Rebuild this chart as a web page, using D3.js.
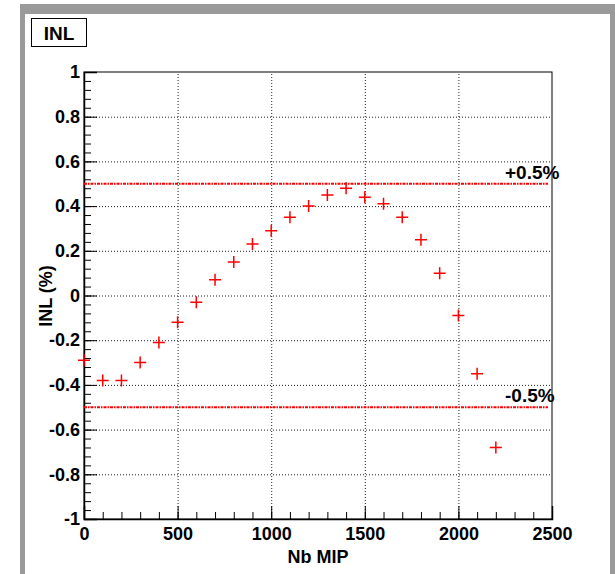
<!DOCTYPE html>
<html>
<head>
<meta charset="utf-8">
<script src="https://cdn.jsdelivr.net/npm/d3@7"></script>
<style>
    body { margin: 0; background: #fff; }
    text { font-family: "Liberation Sans", Arial, sans-serif; }
</style>
</head>
<body>
<script>
// data
const nbMip = [0, 100, 200, 300, 400, 500, 600, 700, 800, 900, 1000, 1100,
    1200, 1300, 1400, 1500, 1600, 1700, 1800, 1900, 2000, 2100, 2200]
const inl = [-0.29, -0.38, -0.38, -0.30, -0.21, -0.12, -0.03, 0.07, 0.15, 0.23, 0.29, 0.35,
    0.40, 0.45, 0.48, 0.44, 0.41, 0.35, 0.25, 0.10, -0.09, -0.35, -0.68]
const limits = [0.5, -0.5]
const limitLabels = ['+0.5%', '-0.5%']
const xTicks = [0, 500, 1000, 1500, 2000, 2500]
const yTicks = [-1, -0.8, -0.6, -0.4, -0.2, 0, 0.2, 0.4, 0.6, 0.8, 1]

const measurements = {
    width: 615,
    height: 574,
    left: 84,
    right: 552,
    top: 72,
    bottom: 519
}

const svg = d3.select('body').append('svg')
    .attr('width', measurements.width)
    .attr('height', measurements.height)

// grey ROOT canvas frame
svg.append('rect')
    .attr('x', 20).attr('y', 4)
    .attr('width', 600).attr('height', 580)
    .attr('fill', '#9a9a9a')
svg.append('rect')
    .attr('x', 25).attr('y', 14)
    .attr('width', 585).attr('height', 570)
    .attr('fill', '#fff')

// title box
svg.append('rect')
    .attr('x', 31.5).attr('y', 18.5)
    .attr('width', 55).attr('height', 28)
    .attr('fill', '#fff').attr('stroke', '#000').attr('stroke-width', 1)
svg.append('text')
    .attr('x', 59).attr('y', 40)
    .attr('text-anchor', 'middle')
    .attr('font-size', 19).attr('font-weight', 'bold')
    .text('INL')

const x = d3.scaleLinear().domain([0, 2500]).range([measurements.left, measurements.right])
const y = d3.scaleLinear().domain([-1, 1]).range([measurements.bottom, measurements.top])
const w = measurements.right - measurements.left
const h = measurements.bottom - measurements.top

const fmt = d => String(+d.toFixed(1))

// dotted grid
svg.append('g')
    .attr('transform', `translate(0,${measurements.bottom})`)
    .call(d3.axisBottom(x).tickValues(xTicks.slice(1, -1)).tickSize(-h).tickFormat(''))
    .call(g => g.select('.domain').remove())
    .selectAll('line')
    .attr('stroke', '#222').attr('stroke-dasharray', '1,2')
svg.append('g')
    .attr('transform', `translate(${measurements.left},0)`)
    .call(d3.axisLeft(y).tickValues(yTicks.slice(1, -1)).tickSize(-w).tickFormat(''))
    .call(g => g.select('.domain').remove())
    .selectAll('line')
    .attr('stroke', '#222').attr('stroke-dasharray', '1,2')

// frame
svg.append('rect')
    .attr('x', measurements.left).attr('y', measurements.top)
    .attr('width', w).attr('height', h)
    .attr('fill', 'none').attr('stroke', '#000').attr('stroke-width', 1)

// minor ticks
svg.append('g')
    .attr('transform', `translate(0,${measurements.bottom})`)
    .call(d3.axisBottom(x).tickValues(d3.range(0, 2501, 100)).tickSize(-7).tickFormat(''))
    .call(g => g.select('.domain').remove())
svg.append('g')
    .attr('transform', `translate(${measurements.left},0)`)
    .call(d3.axisLeft(y).tickValues(d3.range(-25, 26).map(i => i * 0.04)).tickSize(-7).tickFormat(''))
    .call(g => g.select('.domain').remove())

// major ticks and labels
const xAxis = svg.append('g')
    .attr('transform', `translate(0,${measurements.bottom})`)
    .call(d3.axisBottom(x).tickValues(xTicks).tickSize(-13).tickPadding(8).tickFormat(d => d))
const yAxis = svg.append('g')
    .attr('transform', `translate(${measurements.left},0)`)
    .call(d3.axisLeft(y).tickValues(yTicks).tickSize(-13).tickPadding(4).tickFormat(fmt))

for (const ax of [xAxis, yAxis]) {
    ax.select('.domain').attr('stroke-width', 1.5)
    ax.selectAll('text')
        .attr('font-family', '"Liberation Sans", Arial, sans-serif')
        .attr('font-size', 18).attr('font-weight', 'bold').attr('fill', '#000')
}

// axis titles
svg.append('text')
    .attr('x', (measurements.left + measurements.right) / 2).attr('y', 563)
    .attr('text-anchor', 'middle')
    .attr('font-size', 18).attr('font-weight', 'bold')
    .text('Nb MIP')
svg.append('text')
    .attr('transform', `translate(52,296) rotate(-90)`)
    .attr('text-anchor', 'middle')
    .attr('font-size', 18).attr('font-weight', 'bold')
    .text('INL (%)')

// +-0.5% limit lines
svg.selectAll('.limit')
    .data(limits)
    .enter()
    .append('line')
    .attr('x1', measurements.left).attr('x2', measurements.right - 4)
    .attr('y1', d => y(d)).attr('y2', d => y(d))
    .attr('stroke', '#ff0000').attr('stroke-width', 2)
    .attr('stroke-dasharray', '3,1,1.5,1')
svg.selectAll('.limitLabel')
    .data(limits)
    .enter()
    .append('text')
    .attr('x', 505)
    .attr('y', d => y(d) - 5)
    .attr('font-size', 19).attr('font-weight', 'bold')
    .text((d, i) => limitLabels[i])

// data markers
const pts = svg.append('g')
pts.selectAll('.p')
    .data(nbMip)
    .enter()
    .append('path')
    .attr('d', (d, i) => {
        const cx = x(d), cy = y(inl[i])
        return `M${cx - 6},${cy}H${cx + 6}M${cx},${cy - 6}V${cy + 6}`
    })
    .attr('stroke', '#ff0000').attr('stroke-width', 1.5)
</script>
</body>
</html>
